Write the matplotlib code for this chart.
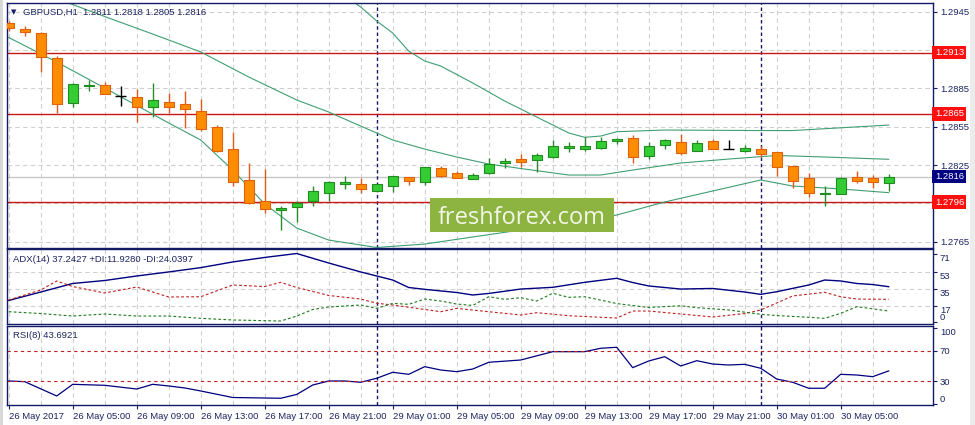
import matplotlib.pyplot as plt
import numpy as np
from matplotlib.patches import Rectangle

plt.rcParams['font.family'] = ['Liberation Sans', 'DejaVu Sans']
plt.rcParams['font.size'] = 6.8

# ---- GBPUSD H1 candles, 26 May 01:00 .. 30 May 08:00 ----
opens = [1.29364, 1.29315, 1.29283, 1.29085, 1.28733, 1.28868, 1.28874, 1.28793, 1.28780, 1.28707,
         1.28743, 1.28725, 1.28673, 1.28545, 1.28373, 1.28131, 1.27969, 1.27896, 1.27919, 1.27969,
         1.28033, 1.28099, 1.28102, 1.28049, 1.28083, 1.28154, 1.28120, 1.28224, 1.28188, 1.28143,
         1.28185, 1.28264, 1.28295, 1.28290, 1.28311, 1.28381, 1.28378, 1.28381, 1.28440, 1.28459,
         1.28321, 1.28405, 1.28433, 1.28362, 1.28436, 1.28373, 1.28362, 1.28373, 1.28350, 1.28240,
         1.28146, 1.28023, 1.28023, 1.28154, 1.28146, 1.28110]
highs = [1.29380, 1.29338, 1.29293, 1.29103, 1.28890, 1.28915, 1.28900, 1.28869, 1.28847, 1.28894,
         1.28811, 1.28832, 1.28767, 1.28563, 1.28506, 1.28268, 1.28217, 1.27932, 1.27971, 1.28086,
         1.28125, 1.28164, 1.28146, 1.28105, 1.28167, 1.28157, 1.28235, 1.28242, 1.28206, 1.28190,
         1.28303, 1.28303, 1.28336, 1.28342, 1.28446, 1.28433, 1.28472, 1.28472, 1.28459, 1.28485,
         1.28433, 1.28450, 1.28490, 1.28446, 1.28451, 1.28446, 1.28405, 1.28399, 1.28352, 1.28242,
         1.28190, 1.28088, 1.28154, 1.28203, 1.28172, 1.28180]
lows = [1.29300, 1.29262, 1.28980, 1.28660, 1.28702, 1.28832, 1.28804, 1.28712, 1.28589, 1.28628,
        1.28660, 1.28537, 1.28519, 1.28354, 1.28088, 1.27945, 1.27872, 1.27742, 1.27807, 1.27927,
        1.27969, 1.28060, 1.28029, 1.28045, 1.28041, 1.28094, 1.28094, 1.28154, 1.28148, 1.28140,
        1.28182, 1.28224, 1.28237, 1.28198, 1.28308, 1.28350, 1.28362, 1.28378, 1.28412, 1.28268,
        1.28300, 1.28378, 1.28332, 1.28360, 1.28375, 1.28373, 1.28352, 1.28315, 1.28164, 1.28073,
        1.28002, 1.27932, 1.28020, 1.28112, 1.28073, 1.28050]
closes = [1.29320, 1.29293, 1.29093, 1.28725, 1.28882, 1.28876, 1.28804, 1.28793, 1.28702, 1.28759,
          1.28707, 1.28686, 1.28530, 1.28362, 1.28120, 1.27951, 1.27904, 1.27912, 1.27951, 1.28047,
          1.28117, 1.28117, 1.28060, 1.28102, 1.28164, 1.28127, 1.28232, 1.28167, 1.28151, 1.28170,
          1.28256, 1.28279, 1.28276, 1.28329, 1.28397, 1.28397, 1.28397, 1.28436, 1.28451, 1.28311,
          1.28399, 1.28444, 1.28347, 1.28420, 1.28378, 1.28373, 1.28383, 1.28339, 1.28232, 1.28127,
          1.28029, 1.28034, 1.28146, 1.28127, 1.28120, 1.28160]

time_labels = ['26 May 2017', '26 May 05:00', '26 May 09:00', '26 May 13:00', '26 May 17:00',
               '26 May 21:00', '29 May 01:00', '29 May 05:00', '29 May 09:00', '29 May 13:00',
               '29 May 17:00', '29 May 21:00', '30 May 01:00', '30 May 05:00']
day_starts = [23, 47]

# Bollinger bands (read at selected bars)
bb_up_x = [19, 21, 22, 23, 24, 25, 26, 27, 29, 31, 33, 35, 36, 37, 38, 41, 47, 49, 55]
bb_up = [1.29776, 1.29573, 1.29487, 1.29377, 1.29283, 1.29142, 1.29064, 1.29025, 1.28892, 1.28751,
         1.28626, 1.28501, 1.28467, 1.28477, 1.28511, 1.28524, 1.28520, 1.28520, 1.28563]
bb_mid_x = [0, 3, 6, 9, 12, 15, 18, 20, 22, 24, 26, 28, 30, 32, 35, 37, 39, 42, 45, 48, 51, 55]
bb_mid = [1.29714, 1.29553, 1.29412, 1.29275, 1.29135, 1.28939, 1.28759, 1.28665, 1.28555, 1.28446,
          1.28375, 1.28313, 1.28258, 1.28223, 1.28172, 1.28172, 1.28211, 1.28266, 1.28297, 1.28325,
          1.28313, 1.28295]
bb_low_x = [0, 3, 6, 10, 12, 14, 16, 18, 20, 23, 26, 29, 32, 35, 38, 41, 44, 47, 49, 52, 55]
bb_low = [1.29248, 1.29056, 1.28853, 1.28579, 1.28446, 1.28211, 1.27945, 1.27757, 1.27663, 1.27605,
          1.27632, 1.27687, 1.27742, 1.27789, 1.27859, 1.27961, 1.28047, 1.28133, 1.28086, 1.28063,
          1.28034]

levels = [1.2913, 1.2865, 1.2796]
bid = 1.2816
price_ticks = [1.2765, 1.2795, 1.2825, 1.2855, 1.2885, 1.2915, 1.2945]
hidden_ticks = [1.2795, 1.2915]  # covered by the level labels

# ADX(14)
adx_x = [0, 2, 4, 6, 8, 10, 12, 14, 16, 18, 20, 22, 24, 25, 26, 28, 29, 30, 32, 34, 36, 38, 39,
         40, 42, 44, 46, 47, 48, 50, 51, 52, 53, 54, 55]
adx = [22.9, 31.7, 40.6, 43.7, 48.4, 52.6, 57.1, 63.0, 67.7, 71.8, 61.9, 52.6, 44.2, 36.4, 34.5,
       31.2, 28.6, 30.2, 34.8, 36.6, 41.8, 46.0, 41.6, 38.0, 34.8, 35.4, 31.7, 29.3, 32.0, 39.0,
       44.2, 43.2, 40.6, 39.5, 37.24]
mdi_x = [0, 2, 3, 4, 6, 8, 10, 12, 14, 16, 17, 18, 20, 22, 23, 24, 27, 28, 30, 32, 33, 35, 38,
         39, 40, 42, 44, 46, 47, 49, 51, 52, 53, 55]
mdi = [23.4, 33.8, 43.2, 37.4, 30.7, 36.9, 26.5, 26.8, 39.0, 37.4, 41.8, 36.4, 28.1, 24.4, 20.0,
       18.2, 11.2, 14.7, 11.2, 7.8, 10.2, 7.0, 4.6, 11.9, 11.9, 8.8, 5.7, 9.3, 13.0, 27.6, 31.4,
       26.8, 24.4, 24.04]
pdi_x = [0, 2, 4, 6, 8, 10, 12, 14, 17, 18, 19, 20, 22, 23, 24, 25, 26, 27, 28, 29, 30, 31, 32,
         33, 34, 35, 36, 38, 40, 42, 43, 45, 47, 48, 50, 51, 52, 53, 55]
pdi = [11.2, 9.3, 6.7, 8.8, 6.7, 6.7, 4.3, 2.6, 1.5, 6.7, 13.5, 16.1, 18.2, 14.7, 19.9, 18.9,
       24.4, 22.3, 19.2, 17.7, 26.8, 24.1, 25.8, 22.3, 30.4, 26.2, 26.8, 19.7, 15.6, 17.4, 15.4,
       13.0, 8.5, 7.2, 5.4, 4.3, 9.5, 16.4, 11.93]

# RSI(8)
rsi_x = [0, 1, 3, 4, 6, 8, 9, 10, 11, 12, 14, 17, 18, 19, 20, 21, 22, 23, 24, 25, 26, 27, 28,
         29, 30, 32, 34, 36, 37, 38, 39, 40, 41, 42, 43, 44, 45, 46, 47, 48, 49, 50, 51, 52, 53,
         54, 55]
rsi = [30.4, 29.5, 10.6, 26.0, 24.7, 19.8, 26.0, 23.8, 21.2, 17.2, 8.6, 7.6, 12.6, 25.1, 30.4,
       30.4, 28.7, 34.0, 41.9, 39.2, 49.3, 44.9, 42.7, 46.2, 55.1, 58.1, 69.1, 69.1, 73.6, 74.9,
       48.0, 56.8, 62.5, 50.2, 57.2, 52.8, 51.5, 52.4, 47.2, 33.0, 28.7, 20.8, 20.8, 39.2, 38.3,
       36.1, 43.69]

navy = '#131a66'
txt = '#1c2560'
grid_c = '#cfcfcf'

fig = plt.figure(figsize=(9.75, 4.25), dpi=100)
fig.patch.set_facecolor('white')
L, W = 7.3 / 975, 925.7 / 975
ax = fig.add_axes([L, 1 - 248 / 425, W, 245 / 425])
ax_adx = fig.add_axes([L, 1 - 324 / 425, W, 75 / 425])
ax_rsi = fig.add_axes([L, 1 - 405 / 425, W, 79 / 425])

for a in (ax, ax_adx, ax_rsi):
    a.set_xlim(-0.09, 57.77)
    for s in a.spines.values():
        s.set_color(navy)
        s.set_linewidth(1.0)
    a.yaxis.tick_right()
    a.tick_params(axis='y', colors=navy, labelcolor=txt, length=3, width=0.8, pad=2)
    a.set_xticks(range(0, 56, 4))
    a.set_xticks(range(2, 56, 4), minor=True)
    a.tick_params(axis='x', which='minor', length=0)
    a.grid(True, which='both', axis='x', color=grid_c, ls=(0, (4, 3)), lw=0.8)
    a.set_axisbelow(True)
    for d in day_starts:
        a.axvline(d, color=navy, ls=(0, (2.5, 2)), lw=1.0, zorder=2)

for a in (ax, ax_adx):
    a.tick_params(axis='x', which='both', length=0, labelbottom=False)

# ---- main price panel ----
ax.set_ylim(1.27601, 1.29518)
ax.set_yticks(price_ticks)
ax.set_yticklabels(['' if p in hidden_ticks else '%.4f' % p for p in price_ticks])
ax.grid(True, axis='y', color=grid_c, ls=(0, (4, 3)), lw=0.8)

ax.axhline(bid, color='#c8c8c8', lw=1.0, zorder=1.5)
for lv in levels:
    ax.axhline(lv, color='#c81818', lw=1.0, zorder=2)

ax.plot(bb_up_x, bb_up, color='#3f9f72', lw=0.8, zorder=2.5)
ax.plot(bb_mid_x, bb_mid, color='#3f9f72', lw=0.8, zorder=2.5)
ax.plot(bb_low_x, bb_low, color='#3f9f72', lw=0.8, zorder=2.5)

bars = np.arange(len(opens))
o = np.array(opens)
c = np.array(closes)
up = c > o
dn = c < o
doji = ~(up | dn)
wick_c = np.where(up, '#2a8a2a', np.where(dn, '#e05a1a', 'black'))
ax.vlines(bars, lows, highs, colors=wick_c, lw=1.0, zorder=3)
body = ~doji
ax.bar(bars[body], np.abs(c - o)[body], 0.62, bottom=np.minimum(o, c)[body],
       color=np.where(up, '#33cc33', '#ff8c00')[body],
       edgecolor=np.where(up, '#1e8c1e', '#e0600c')[body], lw=0.8, zorder=4)
ax.hlines(o[doji], bars[doji] - 0.35, bars[doji] + 0.35, colors='black', lw=1.0, zorder=4)

for lv in levels:
    ax.text(1.002, lv, '%.4f' % lv, transform=ax.get_yaxis_transform(), color='white',
            va='center', ha='left', fontsize=6.8, zorder=5, clip_on=False,
            bbox=dict(boxstyle='square,pad=0.25', fc='#ff1010', ec='none'))
ax.text(1.002, bid, '%.4f' % bid, transform=ax.get_yaxis_transform(), color='white',
        va='center', ha='left', fontsize=6.8, zorder=5, clip_on=False,
        bbox=dict(boxstyle='square,pad=0.25', fc='#000080', ec='none'))

# ---- ADX panel ----
ax_adx.set_ylim(-1.6, 76.5)
ax_adx.plot(adx_x, adx, color='#000080', lw=1.0)
ax_adx.plot(mdi_x, mdi, color='#c02020', lw=0.8, ls=(0, (2.5, 2)))
ax_adx.plot(pdi_x, pdi, color='#1e7a1e', lw=0.8, ls=(0, (2.5, 2)))
ax_adx.set_yticks([0, 17, 35, 53, 71])
ax_adx.grid(True, axis='y', color=grid_c, ls=(0, (4, 3)), lw=0.8)
gl = ax_adx.get_ygridlines()
gl[0].set_visible(False)
gl[4].set_visible(False)
for t in ax_adx.get_yticklabels():
    t.set_va('top')
ax_adx.get_yticklabels()[0].set_va('bottom')

# ---- RSI panel ----
ax_rsi.set_ylim(-1.3, 103)
ax_rsi.plot(rsi_x, rsi, color='#000080', lw=0.9)
for lv in (70, 30):
    ax_rsi.axhline(lv, color='#c02020', lw=0.8, ls=(0, (3, 3)))
ax_rsi.set_yticks([0, 30, 70, 100])
ytl = ax_rsi.get_yticklabels()
ytl[0].set_va('bottom')
ytl[3].set_va('top')
ax_rsi.set_xticklabels(time_labels)
ax_rsi.tick_params(axis='x', which='major', colors=navy, labelcolor=txt, length=3, width=0.8, pad=2)
for t in ax_rsi.get_xticklabels():
    t.set_ha('left')

# ---- headers ----
fig.text(14 / 975, 1 - 12 / 425, '\u25bc', fontsize=5, color=navy, va='center', ha='center',
         family='DejaVu Sans')
fig.text(23 / 975, 1 - 12 / 425, 'GBPUSD,H1  1.2811 1.2818 1.2805 1.2816', color=txt, va='center')
fig.text(12.7 / 975, 1 - 260 / 425, 'ADX(14) 37.2427 +DI:11.9280 -DI:24.0397', color=txt, va='center')
fig.text(12.7 / 975, 1 - 335.7 / 425, 'RSI(8) 43.6921', color=txt, va='center')

# ---- watermark ----
fig.add_artist(Rectangle((430 / 975, 1 - 231.7 / 425), 184 / 975, 33.4 / 425,
                         transform=fig.transFigure, fc='#8db340', ec='none', zorder=10))
fig.text(522 / 975, 1 - 223.5 / 425, 'freshforex.com', fontsize=17, family='Open Sans',
         color='#f3f7ea', ha='center', va='baseline', zorder=11)

# window edges
fig.add_artist(Rectangle((0, 0), 3 / 975, 1, transform=fig.transFigure, fc='#d8d8d8', ec='none'))
fig.add_artist(Rectangle((970 / 975, 0), 5 / 975, 1, transform=fig.transFigure, fc='#ececec', ec='none'))

fig.savefig('out.png', dpi=100)
